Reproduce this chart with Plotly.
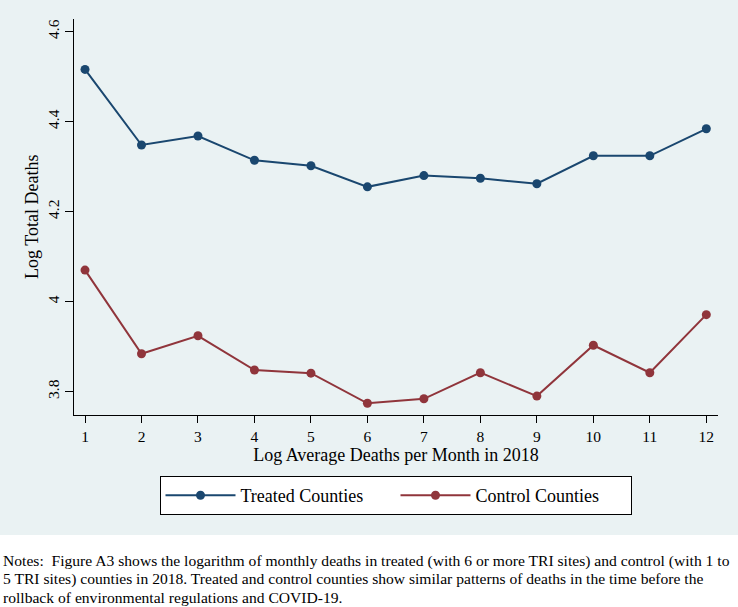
import plotly.graph_objects as go

months = list(range(1, 13))
treated = [4.516, 4.348, 4.368, 4.314, 4.302, 4.255, 4.280, 4.274, 4.262, 4.324, 4.324, 4.384]
control = [4.070, 3.884, 3.924, 3.848, 3.841, 3.774, 3.784, 3.842, 3.790, 3.903, 3.842, 3.971]
y_ticks = [3.8, 4.0, 4.2, 4.4, 4.6]
y_tick_labels = ["3.8", "4", "4.2", "4.4", "4.6"]
note_lines = [
    "Notes:  Figure A3 shows the logarithm of monthly deaths in treated (with 6 or more TRI sites) and control (with 1 to",
    "5 TRI sites) counties in 2018. Treated and control counties show similar patterns of deaths in the time before the",
    "rollback of environmental regulations and COVID-19.",
]

NAVY = "#1a476f"
MAROON = "#90353b"
STATA_BG = "#eaf2f3"
SERIF = "Liberation Serif, Times New Roman, serif"

W, H = 738, 607
L, R, T, B = 74, 20, 19, 192
pw, ph = W - L - R, H - T - B


def py(pixel_y):
    # page pixel row -> paper y
    return (H - B - pixel_y) / ph


def px_(pixel_x):
    # page pixel column -> paper x
    return (pixel_x - L) / pw


fig = go.Figure()
fig.add_trace(go.Scatter(
    x=months, y=treated, name="Treated Counties", mode="lines+markers",
    line=dict(color=NAVY, width=2), marker=dict(color=NAVY, size=9),
))
fig.add_trace(go.Scatter(
    x=months, y=control, name="Control Counties", mode="lines+markers",
    line=dict(color=MAROON, width=2), marker=dict(color=MAROON, size=9),
))

# Stata-style graph region behind the plot
fig.add_shape(
    type="rect", xref="paper", yref="paper", layer="below",
    x0=px_(0), x1=px_(W), y0=py(535), y1=py(0),
    fillcolor=STATA_BG, line_width=0,
)

# y axis title placed by hand, like Stata does
fig.add_annotation(
    text="Log Total Deaths", textangle=-90, xref="paper", yref="paper",
    x=px_(32), y=py(217), xanchor="center", yanchor="middle", showarrow=False,
    font=dict(family=SERIF, size=18, color="black"),
)

for i, line in enumerate(note_lines):
    fig.add_annotation(
        text=line, xref="paper", yref="paper", x=px_(1), y=py(561 + 18 * i),
        xanchor="left", yanchor="middle", align="left", showarrow=False,
        font=dict(family=SERIF, size=15.6, color="black"),
    )

fig.update_layout(
    width=W, height=H, margin=dict(l=L, r=R, t=T, b=B),
    paper_bgcolor="white", plot_bgcolor="white",
    font=dict(family=SERIF, color="black"),
    showlegend=True,
    legend=dict(
        orientation="h", x=px_(395.5), xanchor="center",
        y=py(476), yanchor="top",
        bordercolor="black", borderwidth=1, bgcolor="white",
        font=dict(family=SERIF, size=18), itemwidth=70,
        entrywidth=150, tracegroupgap=0,
    ),
    xaxis=dict(
        range=[0.805, 12.207], tickvals=months, ticks="outside", ticklen=7,
        tickcolor="black", showline=True, linecolor="black", linewidth=1,
        showgrid=False, zeroline=False, tickfont=dict(size=15.5),
        title=dict(text="Log Average Deaths per Month in 2018", font=dict(size=18), standoff=2),
    ),
    yaxis=dict(
        range=[3.748, 4.628], tickvals=y_ticks, ticktext=y_tick_labels,
        ticks="outside", ticklen=8, tickcolor="black", tickangle=-90,
        ticklabelstandoff=0,
        showline=True, linecolor="black", linewidth=1,
        showgrid=True, gridcolor=STATA_BG, gridwidth=1.5, zeroline=False,
        tickfont=dict(size=15.5),
    ),
)

fig.write_html(
    "out.html",
    config={"displayModeBar": False},
    post_script="document.body.style.margin = '0';",
)
